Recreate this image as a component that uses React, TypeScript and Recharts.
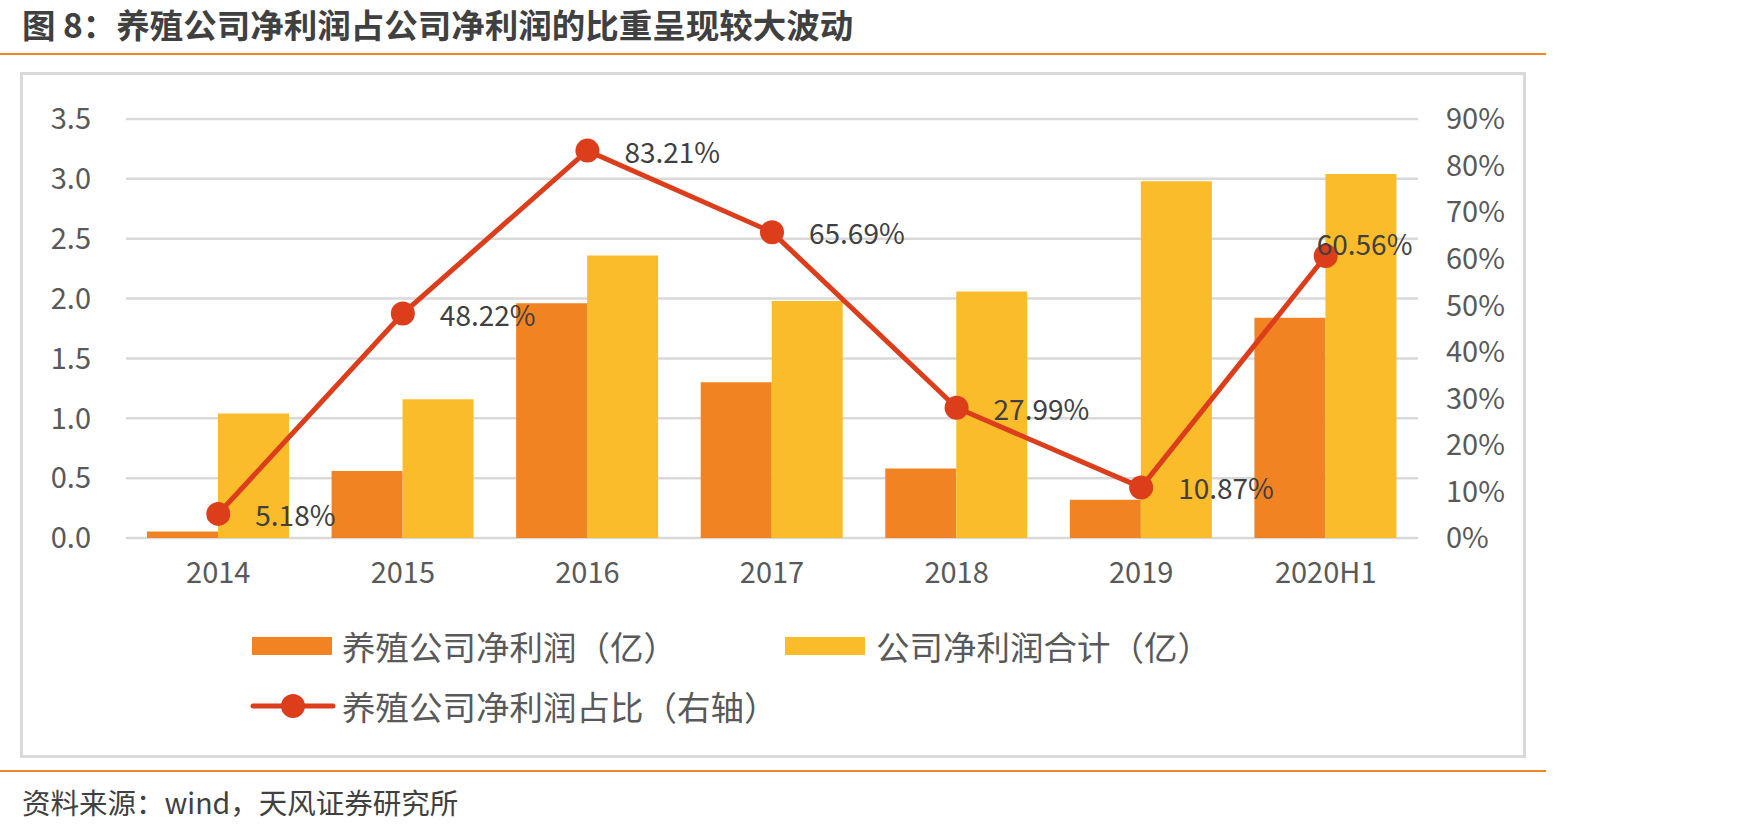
import React from 'react';
import { ComposedChart, Bar, Line, XAxis, YAxis, CartesianGrid } from 'recharts';

const years = ['2014', '2015', '2016', '2017', '2018', '2019', '2020H1'];
// 养殖公司净利润（亿）
const breedingProfit = [0.054, 0.56, 1.96, 1.3, 0.58, 0.32, 1.84];
// 公司净利润合计（亿）
const totalProfit = [1.04, 1.16, 2.36, 1.98, 2.06, 2.98, 3.04];
// 养殖公司净利润占比（右轴）, %
const breedingShare = [5.18, 48.22, 83.21, 65.69, 27.99, 10.87, 60.56];
const leftTicks = [0, 0.5, 1, 1.5, 2, 2.5, 3, 3.5];
const rightTicks = [0, 10, 20, 30, 40, 50, 60, 70, 80, 90];

const data = years.map((year, i) => ({
  year,
  breeding: breedingProfit[i],
  total: totalProfit[i],
  share: breedingShare[i],
}));

const ORANGE = '#F28322';
const YELLOW = '#FBBC2C';
const RED = '#DC3D1B';
const ACCENT = '#F0862A';
const GRID = '#D9D9D9';
const TICK = '#595959';
const CJK = '"Noto Sans CJK SC", "Noto Sans", sans-serif';

const ShareLabel = (props: any) => {
  const { x, y, value, index } = props;
  // the last label sits up-left of its point in the original
  const last = index === years.length - 1;
  return (
    <text
      x={x + (last ? -9 : 37)}
      y={y + (last ? -13 : 0)}
      fill="#404040"
      fontSize={28}
      fontFamily={CJK}
      textAnchor="start"
      dominantBaseline="central"
    >
      {`${Number(value).toFixed(2)}%`}
    </text>
  );
};

const legendText: React.CSSProperties = {
  position: 'absolute',
  fontSize: 33.5,
  color: '#595959',
  lineHeight: '40px',
  whiteSpace: 'nowrap',
  width: 460,
};

const App: React.FC = () => {
  return (
    <div
      style={{
        position: 'absolute',
        left: 0,
        top: 0,
        width: 1747,
        height: 836,
        background: '#fff',
        fontFamily: CJK,
      }}
    >
      <div
        style={{
          position: 'absolute',
          left: 22,
          top: 4,
          width: 1000,
          height: 40,
          fontSize: 33.5,
          fontWeight: 'bold',
          color: '#404040',
          lineHeight: '40px',
          whiteSpace: 'nowrap',
        }}
      >
        图 8：养殖公司净利润占公司净利润的比重呈现较大波动
      </div>
      <div style={{ position: 'absolute', left: 0, top: 53, width: 1546, height: 2, background: ACCENT }} />
      <div
        style={{
          position: 'absolute',
          left: 20,
          top: 72,
          width: 1500,
          height: 680,
          border: `3px solid ${GRID}`,
        }}
      />

      <div style={{ position: 'absolute', left: 0, top: 0 }}>
        <ComposedChart
          width={1747}
          height={836}
          data={data}
          margin={{ top: 119, right: 0, bottom: 248, left: 0 }}
          barCategoryGap={21}
          barGap={0}
        >
          <CartesianGrid yAxisId="left" vertical={false} stroke={GRID} strokeWidth={2.5} />
          <XAxis
            dataKey="year"
            axisLine={false}
            tickLine={false}
            height={50}
            tickMargin={18}
            tick={{ fill: TICK, fontSize: 29, fontFamily: CJK }}
          />
          <YAxis
            yAxisId="left"
            orientation="left"
            width={126}
            domain={[0, 3.5]}
            ticks={leftTicks}
            axisLine={false}
            tickLine={false}
            tickMargin={29}
            tickFormatter={(v: number) => v.toFixed(1)}
            tick={{ fill: TICK, fontSize: 29, fontFamily: CJK }}
          />
          <YAxis
            yAxisId="right"
            orientation="right"
            width={329}
            domain={[0, 90]}
            ticks={rightTicks}
            axisLine={false}
            tickLine={false}
            tickMargin={22}
            tickFormatter={(v: number) => `${v}%`}
            tick={{ fill: TICK, fontSize: 29, fontFamily: CJK, textAnchor: 'start' }}
          />
          <Bar yAxisId="left" dataKey="breeding" fill={ORANGE} isAnimationActive={false} />
          <Bar yAxisId="left" dataKey="total" fill={YELLOW} isAnimationActive={false} />
          <Line
            yAxisId="right"
            dataKey="share"
            stroke={RED}
            strokeWidth={5}
            dot={{ r: 12, fill: RED, stroke: RED, strokeWidth: 0 }}
            label={ShareLabel}
            isAnimationActive={false}
          />
        </ComposedChart>
      </div>

      {/* legend */}
      <div style={{ position: 'absolute', left: 252, top: 637, width: 80, height: 18, background: ORANGE }} />
      <div style={{ ...legendText, left: 342, top: 626 }}>养殖公司净利润（亿）</div>
      <div style={{ position: 'absolute', left: 785, top: 637, width: 80, height: 18, background: YELLOW }} />
      <div style={{ ...legendText, left: 876, top: 626 }}>公司净利润合计（亿）</div>
      <svg style={{ position: 'absolute', left: 250, top: 690 }} width={86} height={32}>
        <line x1={3} y1={16} x2={83} y2={16} stroke={RED} strokeWidth={5} strokeLinecap="round" />
        <circle cx={43} cy={16} r={12} fill={RED} />
      </svg>
      <div style={{ ...legendText, left: 342, top: 686 }}>养殖公司净利润占比（右轴）</div>

      <div style={{ position: 'absolute', left: 0, top: 770, width: 1546, height: 2, background: ACCENT }} />
      <div
        style={{
          position: 'absolute',
          left: 22,
          top: 784,
          width: 600,
          fontSize: 28.5,
          color: '#404040',
          lineHeight: '36px',
          whiteSpace: 'nowrap',
        }}
      >
        资料来源：wind，天风证券研究所
      </div>
    </div>
  );
};

export default App;
